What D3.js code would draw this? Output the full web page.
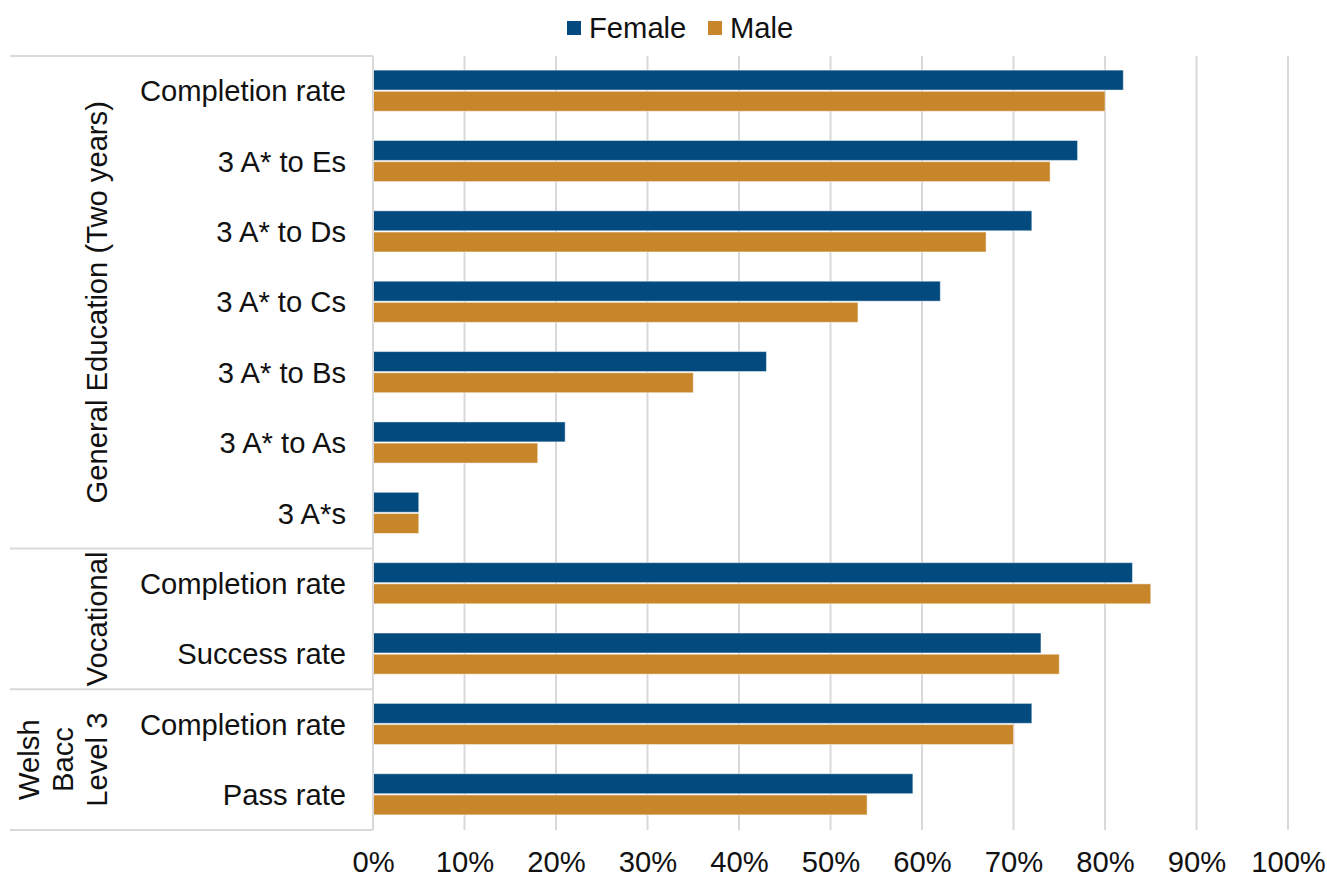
<!DOCTYPE html>
<html>
<head>
<meta charset="utf-8">
<script src="https://cdn.jsdelivr.net/npm/d3@7"></script>
<style>
  body { margin: 0; background: #fff; }
  svg { font-family: "Liberation Sans", Arial, sans-serif; }
</style>
</head>
<body>
<div id="chart"></div>
<script>
// Categories (top to bottom) and their groups
const categories = ["Completion rate", "3 A* to Es", "3 A* to Ds", "3 A* to Cs", "3 A* to Bs", "3 A* to As", "3 A*s",
                    "Completion rate", "Success rate",
                    "Completion rate", "Pass rate"];
const groupNames = [["General Education (Two years)"], ["Vocational"], ["Welsh", "Bacc", "Level 3"]];
const groupSizes = [7, 2, 2];
const seriesNames = ["Female", "Male"];
const female = [82, 77, 72, 62, 43, 21, 5, 83, 73, 72, 59];
const male   = [80, 74, 67, 53, 35, 18, 5, 85, 75, 70, 54];
const xTicks = [0, 10, 20, 30, 40, 50, 60, 70, 80, 90, 100];

const width = 1327, height = 877;
const margin = { top: 56, right: 39, bottom: 47, left: 373 };
const colors = { Female: "#034b7e", Male: "#c8862b" };
const gridColor = "#d9d9d9";
const textColor = "#111";
const fontSize = 29.2;

const svg = d3.select("#chart").append("svg")
    .attr("width", width)
    .attr("height", height);

const x = d3.scaleLinear().domain([0, 100]).range([margin.left, width - margin.right]);
const rowIds = categories.map((c, i) => i);
const y = d3.scaleBand().domain(rowIds)
    .range([margin.top, height - margin.bottom])
    .paddingInner(0.43).paddingOuter(0.215);
const ySub = d3.scaleBand().domain(seriesNames).range([-1, y.bandwidth()]).paddingInner(0.06);

// gridlines
svg.append("g")
    .selectAll("line")
    .data(xTicks)
    .join("line")
    .attr("x1", d => x(d)).attr("x2", d => x(d))
    .attr("y1", margin.top).attr("y2", height - margin.bottom)
    .attr("stroke", gridColor).attr("stroke-width", 2);

// x axis labels
const xAxis = d3.axisBottom(x).tickValues(xTicks).tickSize(0).tickFormat(d => d + "%");
svg.append("g")
    .attr("transform", `translate(0,${height - margin.bottom})`)
    .call(xAxis)
    .call(g => g.select(".domain").remove())
    .call(g => g.selectAll("text")
        .attr("font-size", fontSize)
        .attr("fill", textColor)
        .attr("dy", null)
        .attr("y", 42));

// group separators on the left
const rowTop = i => y(i) - y.step() * y.paddingInner() / 2;
const bounds = [0];
groupSizes.forEach(s => bounds.push(bounds[bounds.length - 1] + s));
const sepY = bounds.map(b => b < categories.length ? rowTop(b) : height - margin.bottom);
svg.append("g")
    .selectAll("line")
    .data(sepY)
    .join("line")
    .attr("x1", 10).attr("x2", margin.left)
    .attr("y1", d => d).attr("y2", d => d)
    .attr("stroke", gridColor).attr("stroke-width", 2);

// bars
const rows = svg.append("g")
    .selectAll("g")
    .data(rowIds)
    .join("g")
    .attr("transform", i => `translate(0,${y(i)})`);

rows.selectAll("rect")
    .data(i => [{ s: "Female", v: female[i] }, { s: "Male", v: male[i] }])
    .join("rect")
    .attr("x", x(0))
    .attr("y", d => ySub(d.s))
    .attr("width", d => x(d.v) - x(0))
    .attr("height", ySub.bandwidth())
    .attr("fill", d => colors[d.s])
    .attr("stroke", "rgba(255,255,255,0.45)")
    .attr("stroke-width", 1);

// category labels
svg.append("g")
    .selectAll("text")
    .data(rowIds)
    .join("text")
    .attr("x", 346)
    .attr("y", i => y(i) + y.bandwidth() / 2)
    .attr("dy", "0.35em")
    .attr("text-anchor", "end")
    .attr("font-size", fontSize)
    .attr("fill", textColor)
    .text(i => categories[i]);

// group labels (rotated)
const lineGap = 34;
groupNames.forEach((lines, gi) => {
    const cy = (sepY[gi] + sepY[gi + 1]) / 2;
    const n = lines.length;
    lines.forEach((t, li) => {
        const cx = 97 - (n - 1 - li) * lineGap;
        svg.append("text")
            .attr("transform", `translate(${cx},${cy}) rotate(-90)`)
            .attr("text-anchor", "middle")
            .attr("dy", "0.35em")
            .attr("font-size", fontSize)
            .attr("fill", textColor)
            .text(t);
    });
});

// axis line at 0
svg.append("line")
    .attr("x1", x(0)).attr("x2", x(0))
    .attr("y1", margin.top).attr("y2", height - margin.bottom)
    .attr("stroke", gridColor).attr("stroke-width", 2);

// legend
const legend = svg.append("g").attr("transform", "translate(567,28)");
const legendX = [0, 141];
seriesNames.forEach((s, i) => {
    const item = legend.append("g").attr("transform", `translate(${legendX[i]},0)`);
    item.append("rect")
        .attr("x", 0).attr("y", -7)
        .attr("width", 14).attr("height", 14)
        .attr("fill", colors[s]);
    item.append("text")
        .attr("x", 22).attr("dy", "0.35em")
        .attr("font-size", fontSize)
        .attr("fill", textColor)
        .text(s);
});
</script>
</body>
</html>
